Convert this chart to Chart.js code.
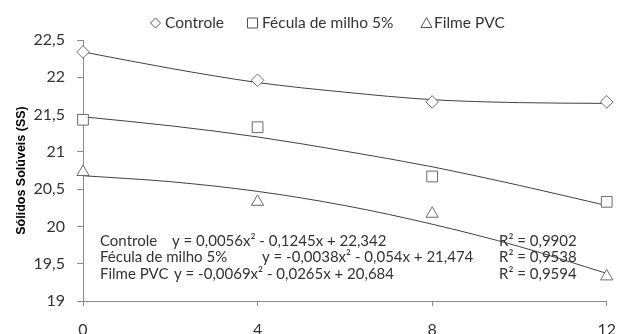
<!DOCTYPE html>
<html><head><meta charset="utf-8">
<script src="https://cdn.jsdelivr.net/npm/chart.js@4/dist/chart.umd.min.js"></script>
<style>html,body{margin:0;padding:0;background:#fff}#wrap{width:630px;height:334px}</style>
</head><body><div id="wrap"><canvas id="c" width="630" height="334"></canvas></div>
<script>
const days = [0, 4, 8, 12];
const controle = [22.34, 21.96, 21.67, 21.67];
const fecula = [21.43, 21.33, 20.67, 20.33];
const filme = [20.73, 20.33, 20.17, 19.33];
const trendX = [0, 2, 4, 6, 8, 10, 12];
const controleTrend = [22.34, 22.12, 21.93, 21.80, 21.70, 21.66, 21.65];
const feculaTrend = [21.47, 21.35, 21.20, 21.01, 20.80, 20.55, 20.28];
const filmeTrend = [20.68, 20.60, 20.47, 20.28, 20.03, 19.73, 19.37];
const seriesNames = ['Controle', 'Fécula de milho 5%', 'Filme PVC'];
const eqLabels = ['Controle', 'Fécula de milho 5%', 'Filme PVC'];
const eqFormulas = ['y = 0,0056x² - 0,1245x + 22,342', 'y = -0,0038x² - 0,054x + 21,474', 'y = -0,0069x² - 0,0265x + 20,684'];
const eqR2 = ['R² = 0,9902', 'R² = 0,9538', 'R² = 0,9594'];

const FONT = 'Lato, "Open Sans", sans-serif';
const TEXT = '#333333';
const pts = (xs, ys) => xs.map((x, i) => ({x, y: ys[i]}));
const markerStyles = ['rectRot', 'rect', 'triangle'];
const markerSizes = [6.3, 7.6, 7];
const dataSets = [controle, fecula, filme];
const trendSets = [controleTrend, feculaTrend, filmeTrend];
const datasets = [];
dataSets.forEach((d, i) => {
  datasets.push({
    label: seriesNames[i], data: pts(days, d), showLine: false,
    pointStyle: markerStyles[i], pointRadius: markerSizes[i],
    pointBorderColor: '#6a6a6a', pointBackgroundColor: '#fff', pointBorderWidth: 1,
    borderColor: '#6a6a6a', backgroundColor: '#fff', order: 1
  });
});
trendSets.forEach((d, i) => {
  datasets.push({
    label: 'trend' + i, data: pts(trendX, d), showLine: true, pointRadius: 0,
    borderColor: '#404040', borderWidth: 1, cubicInterpolationMode: 'monotone', order: 2
  });
});

function marker(ctx, style, cx, cy) {
  ctx.beginPath();
  if (style === 'rectRot') {
    ctx.moveTo(cx, cy - 5); ctx.lineTo(cx + 5, cy); ctx.lineTo(cx, cy + 5); ctx.lineTo(cx - 5, cy); ctx.closePath();
  } else if (style === 'rect') {
    ctx.rect(cx - 5, cy - 5, 10, 10);
  } else {
    ctx.moveTo(cx, cy - 5.5); ctx.lineTo(cx + 5.5, cy + 4.5); ctx.lineTo(cx - 5.5, cy + 4.5); ctx.closePath();
  }
  ctx.stroke();
}

const legendMarkerX = [155.5, 252.5, 426.5];
const legendTextX = [165, 262, 434];
const legendPlugin = {
  id: 'customLegend',
  afterDraw(chart) {
    const ctx = chart.ctx;
    ctx.save();
    ctx.font = '15.5px ' + FONT;
    ctx.textBaseline = 'middle';
    ctx.strokeStyle = '#555';
    ctx.lineWidth = 1;
    ctx.fillStyle = TEXT;
    const cy = 23;
    seriesNames.forEach((n, i) => {
      marker(ctx, markerStyles[i], legendMarkerX[i], cy);
      ctx.fillText(n, legendTextX[i], cy);
    });
    ctx.restore();
  }
};

const eqPlugin = {
  id: 'eq',
  afterDatasetsDraw(chart) {
    const ctx = chart.ctx;
    ctx.save();
    ctx.font = '15px ' + FONT;
    ctx.fillStyle = TEXT;
    ctx.textBaseline = 'middle';
    const rowsY = [241, 257.5, 274];
    const formulaX = [172, 262, 174];
    eqLabels.forEach((lab, i) => {
      ctx.fillText(lab, 100, rowsY[i]);
      ctx.fillText(eqFormulas[i], formulaX[i], rowsY[i]);
      ctx.fillText(eqR2[i], 499, rowsY[i]);
    });
    ctx.restore();
  }
};

new Chart(document.getElementById('c'), {
  type: 'scatter',
  data: {datasets},
  options: {
    responsive: false, animation: false, clip: false,
    layout: {padding: {left: 0, right: 13, top: 40, bottom: 0}},
    plugins: {legend: {display: false}, tooltip: {enabled: false}},
    scales: {
      x: {
        type: 'linear', min: 0, max: 12,
        afterFit: s => { s.height = 33; },
        ticks: {stepSize: 4, color: TEXT, font: {family: FONT, size: 16}, padding: 14},
        grid: {drawOnChartArea: false, drawTicks: true, tickLength: 5, color: '#8a8a8a'},
        border: {color: '#8a8a8a'}
      },
      y: {
        min: 19, max: 22.5,
        afterFit: s => { s.width = 83; },
        ticks: {stepSize: 0.5, color: TEXT, font: {family: FONT, size: 16}, padding: 12,
          callback: v => String(v).replace('.', ',')},
        grid: {drawOnChartArea: false, drawTicks: true, tickLength: 6, color: '#8a8a8a'},
        border: {color: '#8a8a8a'},
        title: {display: true, text: 'Sólidos Solúveis (SS)', color: '#000',
          font: {family: '"Liberation Sans", Arial, sans-serif', size: 12.5, weight: 'bold'}, padding: {top: 14, bottom: 0}}
      }
    }
  },
  plugins: [eqPlugin, legendPlugin]
});
</script></body></html>
